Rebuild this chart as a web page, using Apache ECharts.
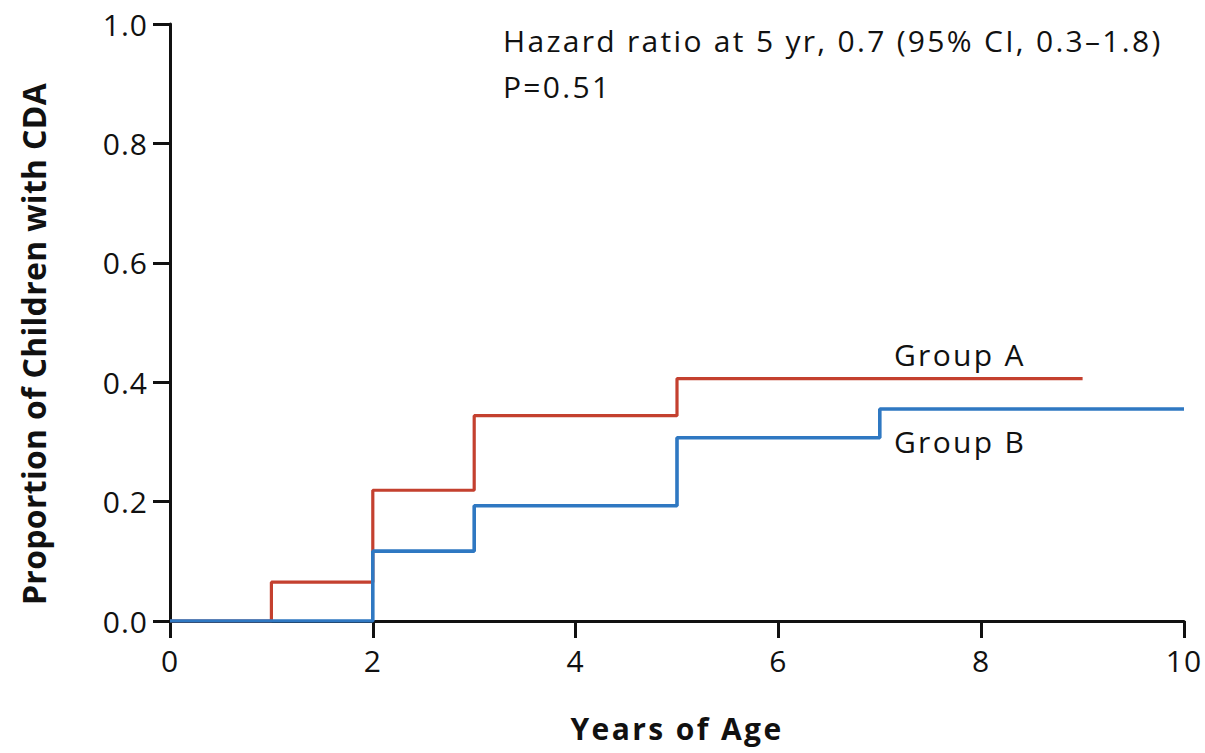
<!DOCTYPE html>
<html>
<head>
<meta charset="utf-8">
<script src="https://cdn.jsdelivr.net/npm/echarts@6/dist/echarts.min.js"></script>
<style>
  html, body { margin: 0; padding: 0; background: #ffffff; }
  #chart { width: 1205px; height: 753px; }
</style>
</head>
<body>
<div id="chart"></div>
<script>
// Cumulative proportion of children with CDA, step curves by group
const groupATimes = [0, 1, 2, 3, 5, 9];
const groupAValues = [0, 0.065, 0.219, 0.344, 0.406, 0.406];
const groupBTimes = [0, 2, 3, 5, 7, 10];
const groupBValues = [0, 0.117, 0.193, 0.307, 0.355, 0.355];

const xTicks = [0, 2, 4, 6, 8, 10];
const yTicks = [0.0, 0.2, 0.4, 0.6, 0.8, 1.0];

const annotationLines = ['Hazard ratio at 5 yr, 0.7 (95% CI, 0.3\u20131.8)', 'P=0.51'];
const groupLabels = ['Group A', 'Group B'];
const xTitle = 'Years of Age';
const yTitle = 'Proportion of Children with CDA';

const FONT = '"Open Sans", "Noto Sans", sans-serif';
const RED = '#c4402f';
const BLUE = '#2f78c2';
const INK = '#111111';

// extra letter spacing (px) for the wide-set typeface look
const trackingByText = {};
trackingByText[annotationLines[0]] = 2.3;
trackingByText[annotationLines[1]] = 2.3;
trackingByText[groupLabels[0]] = 2.3;
trackingByText[groupLabels[1]] = 2.3;
trackingByText[xTitle] = 2.4;
trackingByText[yTitle] = 0.3;
const defaultTracking = 1;

function pairs(xs, ys) { return xs.map((x, i) => [x, ys[i]]); }

const chart = echarts.init(document.getElementById('chart'), null, { renderer: 'svg' });

const axisLineStyle = { color: INK, width: 3 };

chart.setOption({
  backgroundColor: '#ffffff',
  animation: false,
  tooltip: { show: false },
  grid: { left: 170, right: 21, top: 24, bottom: 132 },
  xAxis: {
    type: 'value',
    min: xTicks[0],
    max: xTicks[xTicks.length - 1],
    interval: 2,
    name: xTitle,
    nameLocation: 'middle',
    nameGap: 92,
    nameTextStyle: { fontFamily: FONT, fontWeight: 'bold', fontSize: 30, color: INK },
    axisLine: { show: true, lineStyle: axisLineStyle },
    axisTick: { show: true, inside: false, length: 17, lineStyle: axisLineStyle },
    axisLabel: { margin: 24, fontFamily: FONT, fontSize: 30, color: INK },
    splitLine: { show: false }
  },
  yAxis: {
    type: 'value',
    min: yTicks[0],
    max: yTicks[yTicks.length - 1],
    interval: 0.2,
    axisLine: { show: true, lineStyle: axisLineStyle },
    axisTick: { show: true, inside: false, length: 17, lineStyle: axisLineStyle },
    axisLabel: {
      margin: 22, fontFamily: FONT, fontSize: 30, color: INK,
      formatter: v => v.toFixed(1)
    },
    splitLine: { show: false }
  },
  series: [
    {
      name: groupLabels[0],
      type: 'line',
      step: 'end',
      data: pairs(groupATimes, groupAValues),
      showSymbol: false,
      silent: true,
      lineStyle: { color: RED, width: 3.2 },
      z: 3
    },
    {
      name: groupLabels[1],
      type: 'line',
      step: 'end',
      data: pairs(groupBTimes, groupBValues),
      showSymbol: false,
      silent: true,
      lineStyle: { color: BLUE, width: 3.6 },
      z: 4
    }
  ],
  graphic: [
    {
      type: 'text', x: 33, y: 344, rotation: Math.PI / 2, silent: true,
      style: { text: yTitle, font: 'bold 32px ' + FONT, fill: INK, align: 'center', verticalAlign: 'middle' }
    },
    {
      type: 'text', x: 503, y: 40, silent: true,
      style: { text: annotationLines[0], font: '30px ' + FONT, fill: INK, align: 'left', verticalAlign: 'middle' }
    },
    {
      type: 'text', x: 503, y: 86, silent: true,
      style: { text: annotationLines[1], font: '30px ' + FONT, fill: INK, align: 'left', verticalAlign: 'middle' }
    },
    {
      type: 'text', x: 894, y: 354, silent: true,
      style: { text: groupLabels[0], font: '30px ' + FONT, fill: INK, align: 'left', verticalAlign: 'middle' }
    },
    {
      type: 'text', x: 894, y: 441, silent: true,
      style: { text: groupLabels[1], font: '30px ' + FONT, fill: INK, align: 'left', verticalAlign: 'middle' }
    }
  ]
});

function applyTracking() {
  document.querySelectorAll('#chart text').forEach(t => {
    const s = t.textContent;
    const px = Object.prototype.hasOwnProperty.call(trackingByText, s) ? trackingByText[s] : defaultTracking;
    t.setAttribute('letter-spacing', px + 'px');
  });
}
chart.on('finished', applyTracking);
applyTracking();
setTimeout(applyTracking, 0);
</script>
</body>
</html>
